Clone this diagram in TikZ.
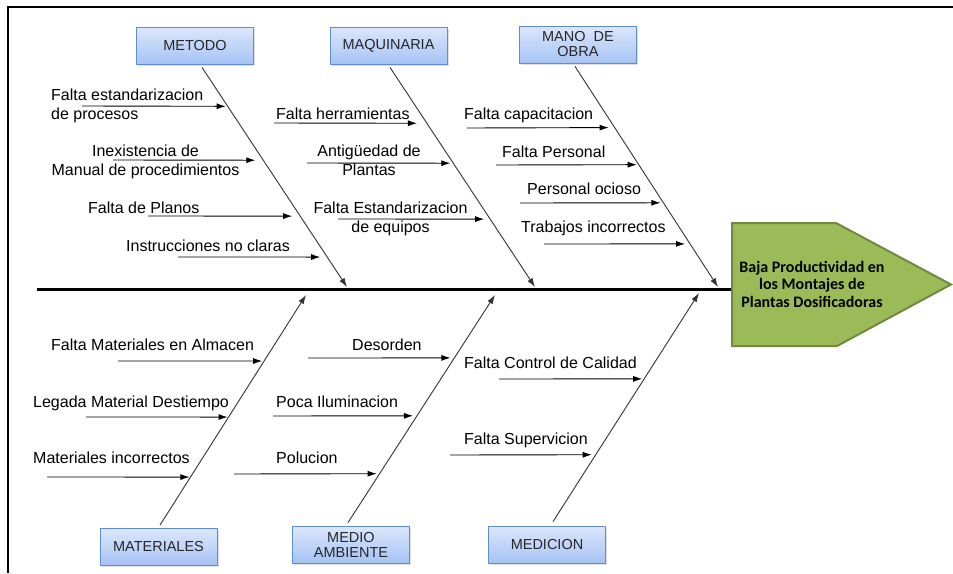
\documentclass[tikz,border=0pt]{standalone}
\usepackage{fontspec}
\setmainfont{Liberation Sans}
\newfontfamily\effectfont{Carlito}
\usetikzlibrary{arrows.meta,calc,shadows}

\definecolor{cattop}{HTML}{DCE7FB}
\definecolor{catbot}{HTML}{A6C3F5}
\definecolor{catedge}{HTML}{5F8DD3}
\definecolor{headfill}{HTML}{9BBB59}
\definecolor{headedge}{HTML}{71893F}

\begin{document}
\begin{tikzpicture}[x=1pt,y=-1pt]
\tikzset{category/.style ={draw=catedge,line width=0.8pt,top color=cattop,bottom color=catbot,
    minimum width=117pt,minimum height=37pt,inner sep=1pt,align=center,text=black!85,
    font=\fontsize{14.5}{15}\selectfont,
    drop shadow={shadow xshift=1.5pt,shadow yshift=-1.5pt,opacity=0.25}},
  bone/.style ={draw=black!80,line width=0.9pt,-{Latex[length=9pt,width=6pt]}},
  cause/.style ={draw=black,line width=0.9pt,-{Latex[length=9pt,width=6pt]}},
  lbl/.style ={inner sep=0pt,anchor=base west,font=\fontsize{16}{18.5}\selectfont}}
\useasboundingbox (0,0) rectangle (953,573);
% marco
\draw[line width=1.6pt] (8,573) -- (8,7) -- (953,7);

% categorias
\node[category] (metodo) at (195,45.5) {METODO};
\node[category] (maquinaria) at (388.5,45.5) {MAQUINARIA};
\node[category] (mano) at (578,44.5) {MANO\ \ DE\\OBRA};
\node[category] (materiales) at (158.5,547) {MATERIALES};
\node[category] (medio) at (351,544.5) {MEDIO\\AMBIENTE};
\node[category] (medicion) at (547,544.5) {MEDICION};

% espina y cabeza
\coordinate (tail) at (37,289);
\coordinate (headL) at (731,289);
\draw[line width=3pt] (tail) -- (headL);
\draw[fill=headfill,draw=headedge,line width=2pt]
  (732,223) -- (836,223) -- (951,284.5) -- (837,346) -- (732,346) -- cycle;
\node[inner sep=0pt,anchor=base,align=center,font=\effectfont\bfseries\fontsize{16}{17.5}\selectfont]
  (efecto) at (812,307) {Baja Productividad en\\los Montajes de\\Plantas Dosificadoras};

% espinas principales
\coordinate (mT) at ([shift={(7,3)}]metodo.south);     \coordinate (mB) at (347,287);
\coordinate (qT) at ([shift={(1.5,3)}]maquinaria.south); \coordinate (qB) at (535,287);
\coordinate (oT) at ([shift={(-3,3)}]mano.south);      \coordinate (oB) at (718,287);
\coordinate (aT) at ([shift={(1.5,-3)}]materiales.north); \coordinate (aB) at (306,295);
\coordinate (eT) at ([shift={(-3,-3)}]medio.north);    \coordinate (eB) at (495,295);
\coordinate (dT) at ([shift={(6,-4)}]medicion.north);  \coordinate (dB) at (699,293);
\foreach \b in {m,q,o,a,e,d}
  \draw[bone] (\b T) -- (\b B);

% causas (cola x / altura y / hueco)
\foreach \x/\y/\g in {82/106/2,113/160/8,148/216/8,178/257/7}{
  \coordinate (m-\y) at (\x,\y);
  \draw[cause,shorten >=\g pt] (m-\y) -- ($(mT)!{(\y-67)/220}!(mB)$);}
\foreach \x/\y/\g in {274/123/10,307/163/3,338/219/6}{
  \coordinate (q-\y) at (\x,\y);
  \draw[cause,shorten >=\g pt] (q-\y) -- ($(qT)!{(\y-67)/220}!(qB)$);}
\foreach \x/\y/\g in {467/128/6,496/165/2,520/203/3,544/244/5}{
  \coordinate (o-\y) at (\x,\y);
  \draw[cause,shorten >=\g pt] (o-\y) -- ($(oT)!{(\y-67)/220}!(oB)$);}
\foreach \x/\y/\g in {118/361/2,86/417/1,47/477/1}{
  \coordinate (a-\y) at (\x,\y);
  \draw[cause,shorten >=\g pt] (a-\y) -- ($(aT)!{(525-\y)/230}!(aB)$);}
\foreach \x/\y/\g in {308/358/4,273/416/4,234/474/3}{
  \coordinate (e-\y) at (\x,\y);
  \draw[cause,shorten >=\g pt] (e-\y) -- ($(eT)!{(523-\y)/228}!(eB)$);}
\foreach \x/\y/\g in {499/379/2,450/455/4}{
  \coordinate (d-\y) at (\x,\y);
  \draw[cause,shorten >=\g pt] (d-\y) -- ($(dT)!{(522-\y)/229}!(dB)$);}

% textos de causas
\node[lbl,align=left] (t1) at (51,119) {Falta estandarizacion\\de procesos};
\node[lbl,anchor=base,align=center] (t2) at (145.5,175) {Inexistencia de\\Manual de procedimientos};
\node[lbl] (t3) at (88,213) {Falta de Planos};
\node[lbl] (t4) at (126,251) {Instrucciones no claras};
\node[lbl] (t5) at (276,119) {Falta herramientas};
\node[lbl,anchor=base,align=center] (t6) at (369,175) {Antigüedad de\\Plantas};
\node[lbl,anchor=base,align=center] (t7) at (390.5,232) {Falta Estandarizacion\\de equipos};
\node[lbl] (t8) at (464,119) {Falta capacitacion};
\node[lbl] (t9) at (502,157) {Falta Personal};
\node[lbl] (t10) at (527,194) {Personal ocioso};
\node[lbl] (t11) at (521,232) {Trabajos incorrectos};
\node[lbl] (t12) at (51,350) {Falta Materiales en Almacen};
\node[lbl] (t13) at (33,407) {Legada Material Destiempo};
\node[lbl] (t14) at (33,463) {Materiales incorrectos};
\node[lbl] (t15) at (352,350) {Desorden};
\node[lbl] (t16) at (276,407) {Poca Iluminacion};
\node[lbl] (t17) at (276,463) {Polucion};
\node[lbl] (t18) at (464,368) {Falta Control de Calidad};
\node[lbl] (t19) at (464,444) {Falta Supervicion};
\end{tikzpicture}
\end{document}
